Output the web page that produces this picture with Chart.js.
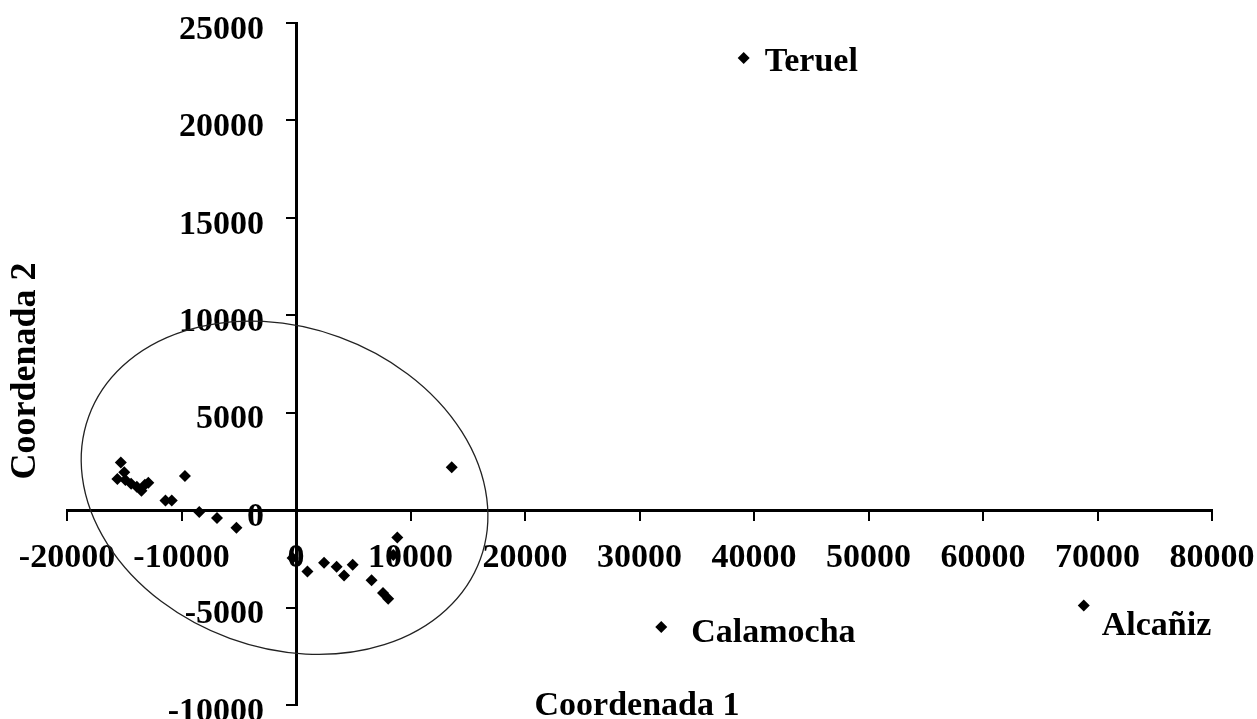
<!DOCTYPE html>
<html lang="es">
<head>
<meta charset="utf-8">
<title>Coordenada 1 / Coordenada 2</title>
<script src="https://cdn.jsdelivr.net/npm/chart.js@4.4.1/dist/chart.umd.min.js"></script>
<style>
  html, body { margin: 0; padding: 0; background: #fff; }
  #wrap { width: 1257px; height: 719px; }
</style>
</head>
<body>
<div id="wrap"><canvas id="c" width="1257" height="719"></canvas></div>
<script>
// Municipios del grupo central
const grupoX = [-15300, -15000, -15600, -14900, -14400, -13900, -13500, -13200, -12900,
                -9700, -11400, -10850, -8450, -6900, -5200, 13600,
                -300, 1000, 2450, 3550, 4200, 4950, 8850, 8500, 6600, 7600, 8050];
const grupoY = [2450, 1950, 1600, 1550, 1350, 1200, 1000, 1300, 1400,
                1750, 500, 500, -100, -400, -900, 2200,
                -2450, -3150, -2700, -2900, -3350, -2800, -1400, -2300, -3600, -4250, -4550];

// Cabeceras alejadas del grupo
const cabeceras  = ['Teruel', 'Calamocha', 'Alcañiz'];
const cabecerasX = [39100, 31900, 68800];
const cabecerasY = [23200, -6000, -4900];

// Marcas de los ejes
const ticksX = [-20000, -10000, 0, 10000, 20000, 30000, 40000, 50000, 60000, 70000, 80000];
const ticksY = [-10000, -5000, 0, 5000, 10000, 15000, 20000, 25000];

// Elipse que rodea al grupo (centro en unidades de datos, semiejes en unidades del eje X)
const elipse = { cx: -1000, cy: 1150, rx: 18200, ry: 14000, giro: 20 };

const FAMILIA = "'Liberation Serif', 'Times New Roman', serif";
const fuenteEje = { family: FAMILIA, size: 34, weight: 'bold' };

// Posición de cada rótulo respecto a su punto (px)
const desfaseRotulo = { 'Teruel': [21, 13], 'Calamocha': [30, 15], 'Alcañiz': [18, 29] };

const dibujaElipse = {
  id: 'dibujaElipse',
  beforeDatasetsDraw(chart) {
    const { ctx, scales: { x, y } } = chart;
    const k = Math.abs(x.getPixelForValue(10000) - x.getPixelForValue(0)) / 10000;
    ctx.save();
    ctx.beginPath();
    ctx.ellipse(x.getPixelForValue(elipse.cx), y.getPixelForValue(elipse.cy),
                elipse.rx * k, elipse.ry * k, elipse.giro * Math.PI / 180, 0, 2 * Math.PI);
    ctx.lineWidth = 1.3;
    ctx.strokeStyle = '#222';
    ctx.stroke();
    ctx.restore();
  }
};

// Las etiquetas del eje vertical se separan de la línea del eje
const separaEtiquetasY = {
  id: 'separaEtiquetasY',
  beforeDraw(chart) {
    const s = chart.scales.y;
    const items = s.getLabelItems(chart.chartArea);
    if (items._separadas) return;
    items.forEach(it => {
      it.options.translation[0] -= 32;
      it.options.translation[1] += 7;
    });
    items._separadas = true;
  }
};

const rotulosYTitulos = {
  id: 'rotulosYTitulos',
  afterDraw(chart) {
    const { ctx } = chart;
    ctx.save();
    ctx.fillStyle = '#000';
    ctx.font = 'bold 34px ' + FAMILIA;
    ctx.textBaseline = 'alphabetic';

    // Nombres de las cabeceras
    const meta = chart.getDatasetMeta(1);
    ctx.textAlign = 'left';
    meta.data.forEach((p, i) => {
      const nombre = cabeceras[i];
      const d = desfaseRotulo[nombre] || [20, 12];
      ctx.fillText(nombre, p.x + d[0], p.y + d[1]);
    });

    // Títulos de los ejes
    ctx.textAlign = 'center';
    ctx.fillText('Coordenada 1', 637, 715);
    ctx.font = 'bold 36px ' + FAMILIA;
    ctx.translate(35, 371);
    ctx.rotate(-Math.PI / 2);
    ctx.fillText('Coordenada 2', 0, 0);
    ctx.restore();
  }
};

const estiloPunto = {
  pointStyle: 'rectRot',
  pointRadius: 6,
  backgroundColor: '#000',
  borderColor: '#000',
  borderWidth: 0,
  showLine: false
};

new Chart(document.getElementById('c'), {
  type: 'scatter',
  data: {
    datasets: [
      Object.assign({ label: 'Municipios', data: grupoX.map((v, i) => ({ x: v, y: grupoY[i] })) }, estiloPunto),
      Object.assign({ label: 'Cabeceras', data: cabecerasX.map((v, i) => ({ x: v, y: cabecerasY[i] })) }, estiloPunto)
    ]
  },
  options: {
    responsive: false,
    devicePixelRatio: 1,
    animation: false,
    events: [],
    layout: { padding: { left: 67, right: 45, top: 23, bottom: 14 } },
    plugins: { legend: { display: false }, tooltip: { enabled: false } },
    scales: {
      x: {
        type: 'linear',
        position: { y: 0 },
        min: ticksX[0],
        max: ticksX[ticksX.length - 1],
        afterBuildTicks(s) { s.ticks = ticksX.map(v => ({ value: v })); },
        afterFit(s) { s.height = 0; s.paddingLeft = 0; s.paddingRight = 0; },
        ticks: { autoSkip: false, maxRotation: 0, minRotation: 0, padding: 19, color: '#000', font: fuenteEje,
                 callback: v => String(v) },
        grid: { drawOnChartArea: false, drawTicks: true, tickLength: 9, color: '#000', lineWidth: 2 },
        border: { display: true, color: '#000', width: 3 }
      },
      y: {
        type: 'linear',
        position: { x: 0 },
        min: ticksY[0],
        max: ticksY[ticksY.length - 1],
        afterBuildTicks(s) { s.ticks = ticksY.map(v => ({ value: v })); },
        afterFit(s) { s.width = 0; s.paddingTop = 0; s.paddingBottom = 0; },
        ticks: { autoSkip: false, color: '#000', font: fuenteEje, callback: v => String(v) },
        grid: { drawOnChartArea: false, drawTicks: true, tickLength: 9, color: '#000', lineWidth: 2 },
        border: { display: true, color: '#000', width: 3 }
      }
    }
  },
  plugins: [dibujaElipse, separaEtiquetasY, rotulosYTitulos]
});
</script>
</body>
</html>
